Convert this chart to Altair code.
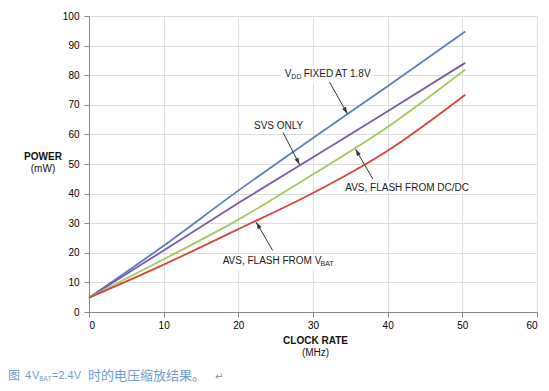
import math
import altair as alt
import pandas as pd

# ---- data ----
clock_mhz = [0, 10, 20, 30, 40, 50.4]
vdd_fixed = [4.8, 22.4, 41.0, 58.8, 76.3, 94.8]
svs_only = [4.8, 20.8, 36.8, 52.3, 67.8, 84.2]
avs_dcdc = [4.8, 17.8, 31.2, 46.5, 62.5, 81.9]
avs_vbat = [4.8, 16.0, 28.0, 40.2, 54.5, 73.4]

series_names = ["VDD FIXED", "SVS ONLY", "AVS DCDC", "AVS VBAT"]
series_colors = ["#5a7fc2", "#7a5aa8", "#a6c85e", "#d2473a"]

x_ticks = [0, 10, 20, 30, 40, 50, 60]
y_ticks = [0, 10, 20, 30, 40, 50, 60, 70, 80, 90, 100]

# annotation arrows: start (x, y) -> tip (x, y), in data units
arrow_x = [32.2, 26.0, 38.0, 24.6]
arrow_y = [77.7, 60.6, 45.0, 20.8]
arrow_tx = [34.6, 28.2, 35.7, 22.4]
arrow_ty = [67.0, 49.8, 55.0, 30.3]

# white boxes behind labels (data units)
box_x = [25.7, 21.8, 34.0, 17.5]
box_x2 = [38.0, 29.0, 51.3, 33.0]
box_y = [77.3, 60.7, 40.4, 14.1]
box_y2 = [83.4, 65.4, 44.1, 19.5]

# label pieces (text, x, y, size, align)
label_text = ["V", "DD", "FIXED AT 1.8V", "SVS ONLY", "AVS, FLASH FROM DC/DC", "AVS, FLASH FROM V", "BAT"]
label_x = [26.2, 27.1, 28.75, 25.4, 42.6, 17.9, 31.0]
label_y = [80.5, 79.4, 80.5, 63.0, 42.0, 17.1, 16.1]
label_size = [10, 7, 10, 10, 10, 10, 7]
label_align = ["left", "left", "left", "center", "center", "left", "left"]

W, H = 448, 296
XMAX, YMAX = 60, 100
FONT = "Liberation Sans"

rows = []
for name, vals in zip(series_names, [vdd_fixed, svs_only, avs_dcdc, avs_vbat]):
    for xv, yv in zip(clock_mhz, vals):
        rows.append({"clock": xv, "power": yv, "series": name})
df = pd.DataFrame(rows)

xs = alt.Scale(domain=[0, XMAX], nice=False)
ys = alt.Scale(domain=[0, YMAX], nice=False)
x_axis = alt.Axis(values=x_ticks, title=None, labelPadding=3)
y_axis = alt.Axis(values=y_ticks, title=None, labelPadding=5)


def X(field):
    return alt.X(field, scale=xs, axis=x_axis)


def Y(field):
    return alt.Y(field, scale=ys, axis=y_axis)


lines = alt.Chart(df).mark_line(strokeWidth=1.8, interpolate="monotone").encode(
    x=X("clock:Q"),
    y=Y("power:Q"),
    color=alt.Color("series:N", scale=alt.Scale(domain=series_names, range=series_colors), legend=None),
    detail="series:N",
)

boxes_df = pd.DataFrame({"x": box_x, "x2": box_x2, "y": box_y, "y2": box_y2})
boxes = alt.Chart(boxes_df).mark_rect(color="white").encode(
    x=X("x:Q"), x2="x2:Q", y=Y("y:Q"), y2="y2:Q"
)

sx, sy = W / XMAX, H / YMAX
angles = []
for a, b, c, d in zip(arrow_x, arrow_y, arrow_tx, arrow_ty):
    dx = (c - a) * sx
    dy = -(d - b) * sy
    angles.append(math.degrees(math.atan2(dx, -dy)) % 360)
arr_df = pd.DataFrame({"x": arrow_x, "y": arrow_y, "tx": arrow_tx, "ty": arrow_ty, "angle": angles})

rules = alt.Chart(arr_df).mark_rule(color="#333333", strokeWidth=1).encode(
    x=X("x:Q"), y=Y("y:Q"), x2="tx:Q", y2="ty:Q"
)
heads = alt.Chart(arr_df).mark_point(
    shape="M0,0L-0.32,1L0.32,1Z", filled=True, color="#333333", opacity=1, size=180
).encode(
    x=X("tx:Q"), y=Y("ty:Q"),
    angle=alt.Angle("angle:Q", scale=None),
)

lab_df = pd.DataFrame({"t": label_text, "x": label_x, "y": label_y,
                       "s": label_size, "a": label_align})
label_layers = []
for al in ["left", "center"]:
    for sz in sorted(set(label_size)):
        sub = lab_df[(lab_df["a"] == al) & (lab_df["s"] == sz)]
        if len(sub) == 0:
            continue
        label_layers.append(
            alt.Chart(sub).mark_text(align=al, baseline="middle", font=FONT,
                                     fontSize=sz, color="#1a1a1a").encode(
                x=X("x:Q"), y=Y("y:Q"), text="t:N"
            )
        )

one = alt.Data(values=[{}])


def ptext(txt, px, py, size, weight="normal", align="center", color="#111111", font=FONT):
    return alt.Chart(one).mark_text(
        text=txt, align=align, baseline="middle", fontSize=size, fontWeight=weight,
        color=color, font=font
    ).encode(x=alt.value(px), y=alt.value(py))


cap_color = "#6e9dd3"
CJK = "Noto Sans CJK SC"
titles = [
    ptext("POWER", -46, 141, 10, "bold"),
    ptext("(mW)", -46, 153, 10),
    ptext("CLOCK RATE", 226.5, 325, 10, "bold"),
    ptext("(MHz)", 226.5, 337, 10),
    ptext("图", -81, 360, 12, align="left", color=cap_color, font=CJK),
    ptext("4", -64, 360, 11, align="left", color=cap_color),
    ptext("V", -57, 360, 11, align="left", color=cap_color),
    ptext("BAT", -49.8, 363, 6.5, align="left", color=cap_color),
    ptext("=2.4V", -37, 360, 11, align="left", color=cap_color),
    ptext("时的电压缩放结果。", -1, 360, 13, align="left", color=cap_color, font=CJK),
    ptext("↵", 126, 361, 10, align="left", color="#888888", font="DejaVu Sans"),
]

chart = alt.layer(lines, boxes, rules, heads, *label_layers, *titles).properties(
    width=W, height=H,
    autosize=alt.AutoSizeParams(type="none"),
    padding={"left": 81, "top": 8, "right": 4, "bottom": 71},
).configure_axis(
    grid=True, tickSize=0, labelFontSize=11, labelFont=FONT, labelColor="#222222",
    gridColor="#cfcfcf", gridWidth=1.2, domainColor="#c4c4c4", domainWidth=1.4,
    labelOverlap=False,
).configure_view(stroke="#cfcfcf", strokeWidth=1.2).configure(background="white")

chart.save("out.html", embed_options={"renderer": "svg", "actions": False})
